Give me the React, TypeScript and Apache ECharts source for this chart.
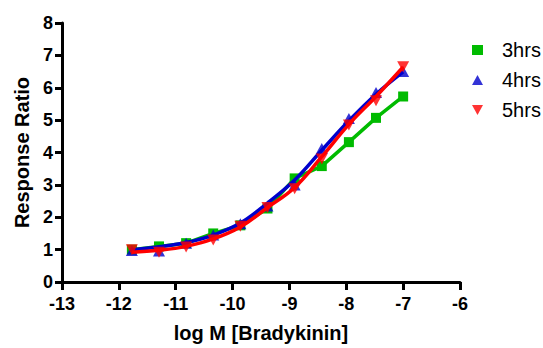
import React, { useEffect, useRef } from "react";
import * as echarts from "echarts";

const logConc = [-11.771, -11.294, -10.817, -10.34, -9.863, -9.386, -8.908, -8.431, -7.954, -7.477, -7.0];
// measured points
const hrs3 = [1.0, 1.1, 1.2, 1.5, 1.75, 2.27, 3.2, 3.58, 4.32, 5.07, 5.73];
const hrs4 = [0.97, 0.96, 1.2, 1.45, 1.8, 2.35, 3.0, 4.12, 5.05, 5.85, 6.5];
const hrs5 = [1.0, 0.92, 1.08, 1.3, 1.72, 2.3, 2.88, 3.8, 4.85, 5.6, 6.65];
// fitted curve values read at each concentration
const fit4 = [1.0, 1.09, 1.22, 1.45, 1.82, 2.44, 3.15, 4.07, 4.98, 5.8, 6.49];
const fit5 = [0.92, 0.98, 1.1, 1.33, 1.7, 2.3, 2.92, 3.87, 4.87, 5.73, 6.64];
const seriesNames = ["3hrs", "4hrs", "5hrs"];
const colors = ["#00BB00", "#0000CC", "#FF0000"];

const downTri = "path://M0,0 L10,0 L5,9 Z";

export default function App() {
  const ref = useRef<HTMLDivElement>(null);
  useEffect(() => {
    if (!ref.current) return;
    const chart = echarts.init(ref.current, null, { renderer: "svg" });
    const pts = (ys: number[]) => logConc.map((x, i) => [x, ys[i]]);
    const font = "Arial, 'Liberation Sans', sans-serif";
    chart.setOption({
      animation: false,
      textStyle: { fontFamily: font },
      grid: { left: 62, top: 23, right: 83, bottom: 60, containLabel: false },
      legend: {
        orient: "vertical",
        left: 467,
        top: 35,
        itemWidth: 11,
        itemHeight: 10,
        itemGap: 10,
        textStyle: { fontSize: 20, fontFamily: font, color: "#000", padding: [0, 0, 0, 14], lineHeight: 20 },
        data: [
          { name: "3hrs", icon: "rect" },
          { name: "4hrs", icon: "triangle" },
          { name: "5hrs", icon: downTri },
        ],
      },
      xAxis: {
        type: "value",
        min: -13,
        max: -6,
        interval: 1,
        name: "log M [Bradykinin]",
        nameLocation: "middle",
        nameGap: 41,
        nameTextStyle: { fontSize: 20, fontWeight: "bold", color: "#000", fontFamily: font },
        axisLine: { onZero: false, lineStyle: { color: "#000", width: 3 } },
        axisTick: { length: 8, lineStyle: { color: "#000", width: 3 } },
        axisLabel: { fontSize: 18, fontWeight: "bold", color: "#000", margin: 13, fontFamily: font },
        splitLine: { show: false },
      },
      yAxis: {
        type: "value",
        min: 0,
        max: 8,
        interval: 1,
        name: "Response Ratio",
        nameLocation: "middle",
        nameGap: 30,
        nameTextStyle: { fontSize: 20, fontWeight: "bold", color: "#000", fontFamily: font },
        axisLine: { show: true, lineStyle: { color: "#000", width: 3 } },
        axisTick: { show: true, length: 7, lineStyle: { color: "#000", width: 3 } },
        axisLabel: { fontSize: 18, fontWeight: "bold", color: "#000", margin: 9, fontFamily: font },
        splitLine: { show: false },
      },
      series: [
        {
          name: seriesNames[0],
          type: "line",
          data: pts(hrs3),
          symbol: "rect",
          symbolSize: 10,
          color: colors[0],
          lineStyle: { width: 3.5, color: colors[0] },
          itemStyle: { color: colors[0] },
          z: 2,
        },
        {
          name: "fit4",
          type: "line",
          data: pts(fit4),
          showSymbol: false,
          symbol: "none",
          smooth: 0.4,
          lineStyle: { width: 3.5, color: colors[1] },
          z: 3,
        },
        {
          name: seriesNames[1],
          type: "scatter",
          data: pts(hrs4),
          symbol: "triangle",
          symbolSize: [12, 11],
          color: colors[1],
          itemStyle: { color: colors[1] },
          z: 3,
        },
        {
          name: "fit5",
          type: "line",
          data: pts(fit5),
          showSymbol: false,
          symbol: "none",
          smooth: 0.4,
          lineStyle: { width: 3.5, color: colors[2] },
          z: 4,
        },
        {
          name: seriesNames[2],
          type: "scatter",
          data: pts(hrs5),
          symbol: downTri,
          symbolSize: [12, 11],
          color: colors[2],
          itemStyle: { color: colors[2] },
          z: 4,
        },
      ],
    });
    return () => chart.dispose();
  }, []);
  return <div ref={ref} style={{ width: 543, height: 348, position: "absolute", left: 0, top: 0 }} />;
}
